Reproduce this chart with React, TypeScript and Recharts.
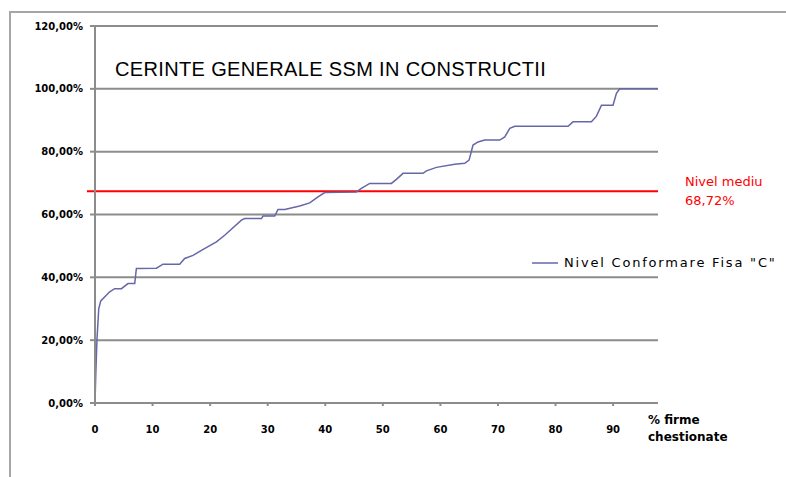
import React from 'react'
import {
  LineChart,
  Line,
  XAxis,
  YAxis,
  CartesianGrid,
  ReferenceLine,
} from 'recharts'

// % of companies surveyed (x) vs conformity level (y)
const firmePct = [
  0, 0.15, 0.35, 0.65, 1, 2.55, 3.42, 4.59, 5.73, 6.9, 7.19, 10.67, 11.81, 14.71, 15.58,
  17.03, 18.49, 21.09, 22.53, 25.43, 26.01, 28.91, 29.19, 31.22, 31.79, 32.96, 35.56,
  37.3, 38.74, 39.91, 45.41, 46.28, 47.72, 51.49, 52.36, 53.51, 56.98, 57.57, 59.31,
  62.49, 64.23, 64.98, 65.67, 66.54, 67.7, 70.31, 71.18, 72.05, 72.92, 82.18, 83.04,
  86.24, 87.11, 87.98, 89.99, 90.58, 91.15, 97.8,
]
const nivelConformare = [
  0, 9.9, 20.5, 30, 32.5, 35.4, 36.4, 36.4, 38, 38, 42.8, 42.9, 44.2, 44.2, 46,
  47, 48.6, 51.3, 53.4, 58.2, 58.7, 58.7, 59.5, 59.5, 61.6, 61.6, 62.7,
  63.7, 65.6, 67, 67.2, 68.3, 69.9, 69.9, 71.2, 73.1, 73.1, 73.9, 75,
  76, 76.3, 77.3, 82.1, 83.1, 83.7, 83.7, 84.7, 87.4, 88.1, 88.1, 89.5,
  89.5, 91.3, 94.8, 94.8, 98.6, 100, 100,
]
const xTicks = [0, 10, 20, 30, 40, 50, 60, 70, 80, 90]
const yTicks = [0, 20, 40, 60, 80, 100, 120]
const nivelMediu = 67.4
const nivelMediuLabel = '68,72%'
const seriesName = 'Nivel Conformare Fisa "C"'
const title = 'CERINTE GENERALE SSM IN CONSTRUCTII'

const data = firmePct.map((x, i) => ({ x, y: nivelConformare[i] }))

const fmtPct = (v: number) => `${v.toFixed(2).replace('.', ',')}%`

export default function App() {
  const tickStyle = { fill: '#000', fontSize: 10, fontWeight: 700, fontFamily: 'DejaVu Sans' }
  return (
    <div style={{ position: 'absolute', left: 0, top: 0, width: 786, height: 477, background: '#fff', overflow: 'hidden' }}>
      <div style={{ position: 'absolute', left: 9, top: 11, width: 820, height: 520, border: '2px solid #a6a6a6' }} />
      <LineChart width={786} height={477} data={data} margin={{ top: 26, right: 128, bottom: 34, left: 9 }}>
        <CartesianGrid vertical={false} stroke="#8c8c8c" strokeWidth={2} />
        <XAxis
          dataKey="x"
          type="number"
          domain={[0, 97.8]}
          ticks={xTicks}
          tick={tickStyle}
          tickSize={3}
          tickMargin={20}
          stroke="#8c8c8c"
          strokeWidth={2}
          height={40}
          allowDataOverflow
        />
        <YAxis
          type="number"
          domain={[0, 120]}
          ticks={yTicks}
          tickFormatter={fmtPct}
          tick={tickStyle}
          tickSize={5}
          tickMargin={7}
          stroke="#8c8c8c"
          strokeWidth={2}
          width={86}
        />
        <ReferenceLine
          segment={[{ x: -1.4, y: nivelMediu }, { x: 97.8, y: nivelMediu }]}
          stroke="#ff0000"
          strokeWidth={2}
          ifOverflow="visible"
        />
        <Line
          type="linear"
          dataKey="y"
          name={seriesName}
          stroke="#6666a8"
          strokeWidth={1.5}
          dot={false}
          isAnimationActive={false}
        />
      </LineChart>
      <div style={{ position: 'absolute', left: 532, top: 255, display: 'flex', alignItems: 'center', fontFamily: 'DejaVu Sans', fontSize: 13, color: '#000', whiteSpace: 'nowrap' }}>
        <svg width={26} height={4} style={{ marginRight: 6 }}>
          <line x1={0} y1={2} x2={26} y2={2} stroke="#6666a8" strokeWidth={1.5} />
        </svg>
        <span style={{ letterSpacing: 1.8 }}>{seriesName}</span>
      </div>
      <div style={{ position: 'absolute', left: 115, top: 58, fontFamily: 'Liberation Sans', fontSize: 20, letterSpacing: 0.35, color: '#000', whiteSpace: 'nowrap' }}>
        {title}
      </div>
      <div style={{ position: 'absolute', left: 685, top: 172, fontFamily: 'DejaVu Sans', fontSize: 13, color: '#ff0000', lineHeight: '19px', whiteSpace: 'nowrap' }}>
        <div>Nivel mediu</div>
        <div>{nivelMediuLabel}</div>
      </div>
      <div style={{ position: 'absolute', left: 648, top: 412, fontFamily: 'DejaVu Sans', fontSize: 12, fontWeight: 700, color: '#000', lineHeight: '17px', whiteSpace: 'nowrap' }}>
        <div>% firme</div>
        <div>chestionate</div>
      </div>
    </div>
  )
}
